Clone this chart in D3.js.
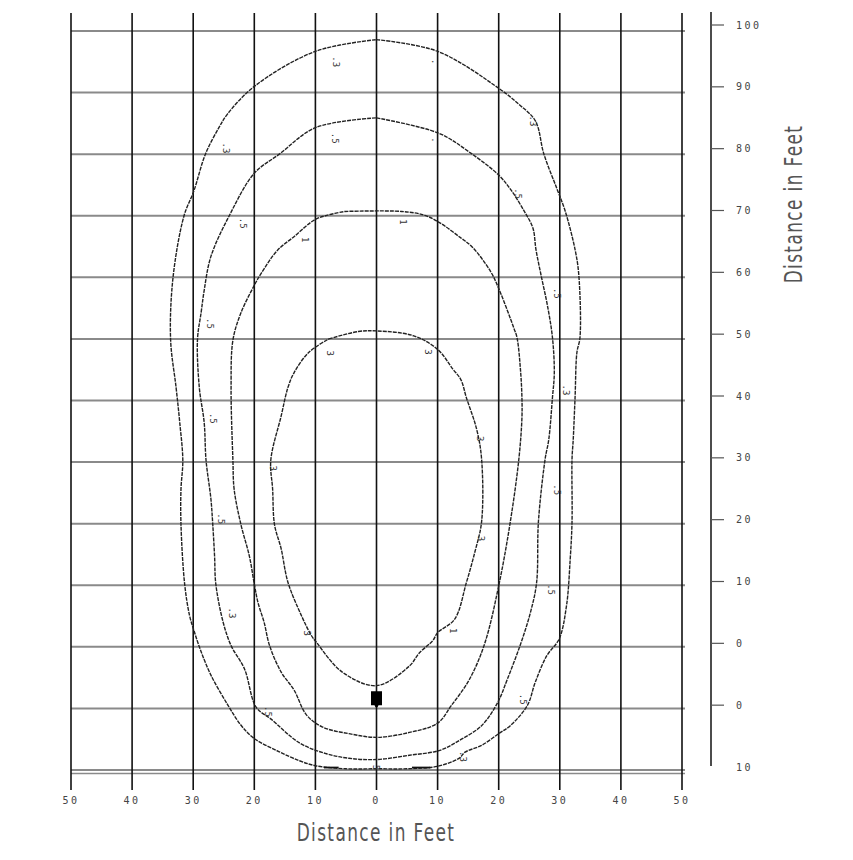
<!DOCTYPE html>
<html>
<head>
<meta charset="utf-8">
<script src="https://cdn.jsdelivr.net/npm/d3@7"></script>
<style>
  body { margin: 0; background: #fff; }
  svg { display: block; }
</style>
</head>
<body>
<div id="chart"></div>
<script>
(() => {
    // tick values and labels
    let xTicks = [-50, -40, -30, -20, -10, 0, 10, 20, 30, 40, 50];
    let xTickLabels = ["50", "40", "30", "20", "10", "0", "10", "20", "30", "40", "50"];
    let yTicks = [100, 90, 80, 70, 60, 50, 40, 30, 20, 10, 0, -10, -20];
    let yTickLabels = ["100", "90", "80", "70", "60", "50", "40", "30", "20", "10", "0", "0", "10"];

    // contour lines, [feet across, feet along]
    let contour03 = [[0, 98.6], [10, 96.7], [20, 90.7], [23.3, 88.1], [26, 85.4], [27.4, 80], [29.6, 74.2],
        [30.9, 70.7], [32.5, 64.5], [33.1, 60.5], [33.3, 50.2], [32.8, 47.8], [32.5, 40.5], [32.2, 33.7],
        [32, 30.5], [32, 20.3], [31.7, 14.2], [31.1, 6.7], [29.9, 1.3], [27.9, -1.4], [26, -5.7],
        [24.7, -9.5], [21.9, -12.8], [20, -14.1], [17.2, -16], [14.5, -17.1], [13.5, -18.1], [10, -19.4],
        [5, -19.8], [0, -19.8], [-5, -19.8], [-10, -19.3], [-12.6, -18.5], [-16, -17], [-20, -14.9],
        [-22.2, -12.7], [-24.3, -9.5], [-27.1, -4.6], [-28.7, -0.8], [-29.8, 2.4], [-30.6, 5.1],
        [-31.4, 10.2], [-32, 19.9], [-32, 25.6], [-31.7, 30.3], [-32.2, 36.4], [-32.8, 42.1],
        [-33.7, 49.9], [-33.3, 60], [-31.5, 70], [-29.9, 74], [-28, 80], [-25.8, 84.3], [-24.4, 86.5],
        [-20, 91], [-10, 96.7], [0, 98.6]];

    let contour05 = [[0, 85.9], [10.2, 83.4], [15.1, 80.4], [20, 76.6], [22, 74.2], [24.2, 70.7], [25.6, 68],
        [26.1, 64.5], [26.9, 60.5], [28, 55.3], [28.8, 50.2], [29.1, 44.5], [28.8, 40.5], [28.2, 33.7],
        [27.6, 30.5], [26.5, 20.3], [26.2, 10.4], [25.2, 5.6], [23.6, 0.5], [21.4, -5.3], [19.8, -9.1],
        [17.2, -12.8], [13.9, -15], [10.4, -16.8], [5.4, -17.6], [0, -18.3], [-4.5, -18.1], [-8.4, -17.3],
        [-12.6, -15.6], [-17.3, -11.7], [-19.7, -9.8], [-21.6, -3.6], [-23.8, 0.2], [-25.1, 4],
        [-26.3, 10.2], [-26.5, 14.7], [-26.8, 19.9], [-27.1, 24], [-27.9, 30.3], [-28.2, 36.4],
        [-29, 42.1], [-29.3, 49.9], [-28.7, 54.3], [-28.2, 57.9], [-27.1, 63.4], [-24.1, 70],
        [-20, 76.9], [-15.9, 80], [-10, 84.3], [0, 85.9]];

    let contour1 = [[-5.2, 70.7], [4.1, 70.7], [7.8, 70.1], [10.3, 68.9], [13.8, 66.4], [15.7, 64.9],
        [18.7, 60.9], [20, 58.2], [22.5, 51.7], [23, 50.2], [23.6, 44.5], [23.8, 40.5], [23.8, 37.1],
        [23.3, 30.5], [21.9, 20.3], [20.1, 10.4], [17.7, 0.5], [15.2, -5.3], [12.2, -9.6], [10, -12.4],
        [5.4, -13.9], [0, -14.7], [-4.5, -14.1], [-8.9, -13], [-11.5, -11], [-13.5, -7], [-15.6, -4.1],
        [-17.5, 0.2], [-18.4, 4], [-19.4, 7.2], [-20, 10.2], [-20.8, 14.7], [-22.2, 19.9], [-23.3, 25.6],
        [-23.5, 30.3], [-23.8, 42.1], [-23.5, 49.8], [-22.2, 54.2], [-20, 58.7], [-18.9, 60.6],
        [-16.2, 64.4], [-13.5, 66.6], [-10.2, 69.3], [-8, 70.1], [-5.2, 70.7]];

    let contour3 = [[-7.8, 50], [-3, 51.2], [0, 51.3], [6.1, 50.5], [10, 48.3], [12.5, 45.1], [13.8, 43.4],
        [14.7, 40.5], [16.4, 35.3], [17.2, 30.5], [17.2, 20.3], [16.1, 15.4], [14.7, 10.4], [12.8, 4.5],
        [10, 2.3], [9.2, 1], [7, -1], [5.4, -3.1], [0, -6.3], [-5.6, -4.1], [-9.8, 0.7], [-10.7, 1.9],
        [-12.3, 5.1], [-14.5, 10.5], [-15.6, 15.9], [-16.7, 19.9], [-17, 25.6], [-17.3, 30.3],
        [-15.6, 37.5], [-14.5, 42.1], [-13.5, 44.5], [-11.1, 47.8], [-7.8, 50]];

    let contours = [contour03, contour05, contour1, contour3];

    // contour labels: text, feet across, feet along
    let labelText = [".3", ".", ".5", ".", ".3", ".3", ".5", ".5", "1", "1", ".5", "3", "3", ".5", ".3",
        ".5", "3", "3", ".5", ".5", "3", ".5", ".3", "3", "1", ".5", ".5", ".3", "5"];
    let labelX = [-6.6, 9.6, -6.8, 9.6, -24.6, 25.6, -21.8, 23.2, -11.7, 4.4, 29.5, -7.6, 8.5, -27.3, 31.1,
        -26.7, 16.9, -16.9, -25.4, 29.5, 17.1, 28.6, -23.7, -11.4, 12.6, -17.7, 24, 14.2, 0];
    let labelY = [95, 95, 82.6, 82.3, 81, 85.4, 68.8, 73.6, 66.1, 69, 57.4, 47.7, 47.9, 52.5, 41.7,
        37.1, 33.8, 29, 20.8, 25.5, 17.6, 9.3, 5.5, 2.2, 2.6, -10.5, -8.5, -17.8, -19.6];

    // the source at the bottom
    let source = [0, -8.5];

    let w = 853;
    let h = 860;
    let svg = d3.select("#chart")
        .append("svg")
        .attr("width", w)
        .attr("height", h);

    let x = d3.scaleLinear()
        .domain([-50, 50])
        .range([71, 682]);

    let y = d3.scaleLinear()
        .domain([-20, 100])
        .range([770, 31]);

    // right axis sits a little higher than the grid
    let yR = d3.scaleLinear()
        .domain([-20, 100])
        .range([767, 25]);

    // horizontal grid lines (grey, heavy)
    svg.append("g")
        .selectAll("line")
        .data(yTicks)
        .enter()
        .append("line")
        .attr("x1", x(-50))
        .attr("x2", x(50) + 3)
        .attr("y1", d => y(d))
        .attr("y2", d => y(d))
        .attr("stroke", "#8a8a8a")
        .attr("stroke-width", 2);

    // second line at the bottom (double rule)
    svg.append("line")
        .attr("x1", x(-50))
        .attr("x2", x(50) + 3)
        .attr("y1", y(-20) + 3.5)
        .attr("y2", y(-20) + 3.5)
        .attr("stroke", "#8a8a8a")
        .attr("stroke-width", 1.6);

    // vertical grid lines, running down past the base as ticks
    svg.append("g")
        .selectAll("line")
        .data(xTicks)
        .enter()
        .append("line")
        .attr("x1", d => x(d))
        .attr("x2", d => x(d))
        .attr("y1", 13)
        .attr("y2", y(-20) + 20)
        .attr("stroke", "#111")
        .attr("stroke-width", 1.6);

    // contours
    let line = d3.line()
        .x(d => x(d[0]))
        .y(d => y(d[1]))
        .curve(d3.curveCatmullRom.alpha(0.5));

    svg.append("g")
        .selectAll("path")
        .data(contours)
        .enter()
        .append("path")
        .attr("d", line)
        .attr("fill", "none")
        .attr("stroke", "#222")
        .attr("stroke-width", 1.4)
        .attr("stroke-dasharray", "4 1");

    // dark dashes on the base near the "5"
    let baseDashes = [[-8.6, -6.2], [5.8, 8.8]];
    svg.append("g")
        .selectAll("line")
        .data(baseDashes)
        .enter()
        .append("line")
        .attr("x1", d => x(d[0]))
        .attr("x2", d => x(d[1]))
        .attr("y1", y(-19.6))
        .attr("y2", y(-19.6))
        .attr("stroke", "#111")
        .attr("stroke-width", 1.8);

    // source marker
    svg.append("path")
        .attr("transform", "translate(" + x(source[0]) + "," + y(source[1]) + ")")
        .attr("d", "M-5.5,-8 L5.5,-8 L5.5,6 L2,6 L1,8 L-1,8 L-2,6 L-5.5,6 Z")
        .attr("fill", "#000");

    // contour labels
    svg.append("g")
        .selectAll("text")
        .data(labelText)
        .enter()
        .append("text")
        .attr("transform", (d, i) => "translate(" + x(labelX[i]) + "," + y(labelY[i]) + ") rotate(90)")
        .attr("text-anchor", "middle")
        .attr("dy", "0.35em")
        .attr("font-family", "DejaVu Sans Mono, monospace")
        .attr("font-size", 9)
        .attr("fill", "#333")
        .text(d => d);

    // x tick labels
    svg.append("g")
        .selectAll("text")
        .data(xTicks)
        .enter()
        .append("text")
        .attr("x", d => x(d))
        .attr("y", 804)
        .attr("text-anchor", "middle")
        .attr("font-family", "DejaVu Sans Mono, monospace")
        .attr("font-size", 10)
        .attr("letter-spacing", 2.5)
        .attr("fill", "#444")
        .text((d, i) => xTickLabels[i]);

    // right axis
    let axisX = 711;
    svg.append("line")
        .attr("x1", axisX)
        .attr("x2", axisX)
        .attr("y1", 12)
        .attr("y2", yR(-20) - 1)
        .attr("stroke", "#111")
        .attr("stroke-width", 1.5);

    svg.append("g")
        .selectAll("line")
        .data(yTicks.filter(d => d > -20))
        .enter()
        .append("line")
        .attr("x1", axisX)
        .attr("x2", axisX + 13)
        .attr("y1", d => yR(d))
        .attr("y2", d => yR(d))
        .attr("stroke", "#555")
        .attr("stroke-width", 1.2);

    svg.append("g")
        .selectAll("text")
        .data(yTicks)
        .enter()
        .append("text")
        .attr("x", 736)
        .attr("y", d => yR(d))
        .attr("dy", "0.35em")
        .attr("font-family", "DejaVu Sans Mono, monospace")
        .attr("font-size", 10)
        .attr("letter-spacing", 2.5)
        .attr("fill", "#444")
        .text((d, i) => yTickLabels[i]);

    // axis titles, squeezed sideways like the original lettering
    svg.append("text")
        .attr("transform", "translate(376,841) scale(0.68,1)")
        .attr("text-anchor", "middle")
        .attr("font-family", "DejaVu Sans, sans-serif")
        .attr("font-size", 25)
        .attr("letter-spacing", 2)
        .attr("fill", "#555")
        .text("Distance in Feet");

    svg.append("text")
        .attr("transform", "translate(802,204) rotate(-90) scale(0.68,1)")
        .attr("text-anchor", "middle")
        .attr("font-family", "DejaVu Sans, sans-serif")
        .attr("font-size", 25)
        .attr("letter-spacing", 2)
        .attr("fill", "#555")
        .text("Distance in Feet");
})();
</script>
</body>
</html>
